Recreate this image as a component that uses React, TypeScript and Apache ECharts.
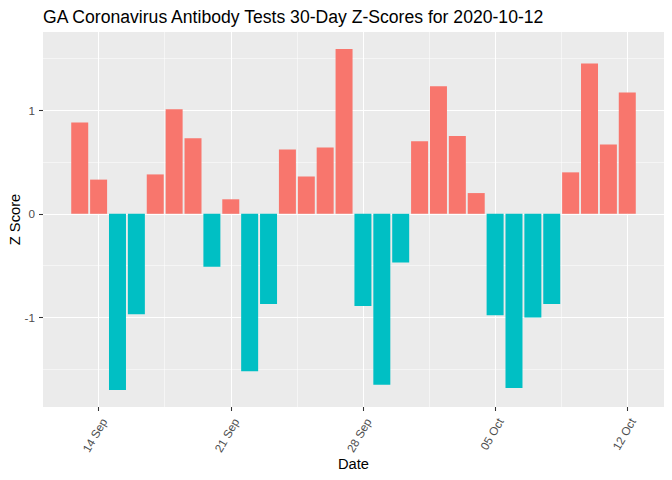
import React, { useEffect, useRef } from "react";
import * as echarts from "echarts";

const titleText = "GA Coronavirus Antibody Tests 30-Day Z-Scores for 2020-10-12";

const dates = [
  "2020-09-13", "2020-09-14", "2020-09-15", "2020-09-16", "2020-09-17",
  "2020-09-18", "2020-09-19", "2020-09-20", "2020-09-21", "2020-09-22",
  "2020-09-23", "2020-09-24", "2020-09-25", "2020-09-26", "2020-09-27",
  "2020-09-28", "2020-09-29", "2020-09-30", "2020-10-01", "2020-10-02",
  "2020-10-03", "2020-10-04", "2020-10-05", "2020-10-06", "2020-10-07",
  "2020-10-08", "2020-10-09", "2020-10-10", "2020-10-11", "2020-10-12",
];

const zScores = [
  0.88, 0.33, -1.70, -0.97, 0.38, 1.01, 0.73, -0.51, 0.14, -1.52,
  -0.87, 0.62, 0.36, 0.64, 1.59, -0.89, -1.65, -0.47, 0.70, 1.23,
  0.75, 0.20, -0.98, -1.68, -1.00, -0.87, 0.40, 1.45, 0.67, 1.17,
];

const xTickDates = ["2020-09-14", "2020-09-21", "2020-09-28", "2020-10-05", "2020-10-12"];
const xTickLabels = ["14 Sep", "21 Sep", "28 Sep", "05 Oct", "12 Oct"];
const xMinorDates = ["2020-09-17", "2020-09-24", "2020-10-01", "2020-10-08"]; // +0.5 day each

const yTicks = [-1, 0, 1];
const yTickLabels = ["-1", "0", "1"];
const yMinor = [-1.5, -0.5, 0.5, 1.5];

const POS_COLOR = "#F8766D";
const NEG_COLOR = "#00BFC4";
const BAR_WIDTH_DAYS = 0.9;

const utcDay = (s: string) => {
  const [y, m, d] = s.split("-").map(Number);
  return Date.UTC(y, m - 1, d) / 86400000;
};
// day offset from the first date (keeps the axis numbers small)
const dayNum = (s: string) => Math.round(utcDay(s) - utcDay(dates[0]));

export default function App() {
  const ref = useRef<HTMLDivElement>(null);

  useEffect(() => {
    if (!ref.current) return;
    const chart = echarts.init(ref.current, null, { renderer: "svg" });

    const days = dates.map(dayNum);
    const half = BAR_WIDTH_DAYS / 2;
    const xLo = Math.min(...days) - half;
    const xHi = Math.max(...days) + half;
    const xPad = (xHi - xLo) * 0.05;
    const xMin = xLo - xPad;
    const xMax = xHi + xPad;

    const yLo = Math.min(...zScores, 0);
    const yHi = Math.max(...zScores, 0);
    const yPad = (yHi - yLo) * 0.05;
    const yMin = yLo - yPad;
    const yMax = yHi + yPad;

    const xTickDays = xTickDates.map(dayNum);
    const xMinorDays = xMinorDates.map((d) => dayNum(d) + 0.5);
    const labelFor = (v: number) => {
      const i = xTickDays.findIndex((t) => Math.abs(t - v) < 1e-6);
      return i >= 0 ? xTickLabels[i] : "";
    };
    const yLabelFor = (v: number) => {
      const i = yTicks.findIndex((t) => Math.abs(t - v) < 1e-6);
      return i >= 0 ? yTickLabels[i] : "";
    };

    const font = "Liberation Sans";

    chart.setOption({
      animation: false,
      backgroundColor: "#FFFFFF",
      title: {
        text: titleText,
        left: 43,
        top: 8,
        padding: 0,
        textStyle: { fontFamily: font, fontSize: 17.6, fontWeight: "normal", color: "#000000" },
      },
      grid: {
        left: 43,
        right: 8,
        top: 32,
        bottom: 73,
        show: true,
        backgroundColor: "#EBEBEB",
        borderWidth: 0,
        containLabel: false,
        outerBoundsMode: "none",
      },
      xAxis: [
        {
          type: "value",
          min: xMin,
          max: xMax,
          name: "Date",
          nameLocation: "middle",
          nameGap: 49,
          nameMoveOverlap: false,
          nameTextStyle: { fontFamily: font, fontSize: 14.7, color: "#000000" },
          axisLine: { show: false, onZero: false },
          axisTick: {
            show: true,
            length: 4,
            customValues: xTickDays,
            lineStyle: { color: "#333333", width: 1.07 },
          },
          axisLabel: {
            show: true,
            customValues: xTickDays,
            formatter: (v: number) => labelFor(v),
            rotate: 60,
            align: "right",
            verticalAlign: "top",
            margin: 9,
            hideOverlap: false,
            fontFamily: font,
            fontSize: 11.7,
            color: "#4D4D4D",
          },
          splitLine: { show: true, lineStyle: { color: "#FFFFFF", width: 1.07 } },
        },
        {
          type: "value",
          min: xMin,
          max: xMax,
          position: "bottom",
          axisLine: { show: false, onZero: false },
          axisTick: { show: false, customValues: xMinorDays },
          axisLabel: { show: false },
          splitLine: { show: true, lineStyle: { color: "#FFFFFF", width: 0.53 } },
        },
      ],
      yAxis: [
        {
          type: "value",
          min: yMin,
          max: yMax,
          name: "Z Score",
          nameLocation: "middle",
          nameGap: 21,
          nameMoveOverlap: false,
          nameTextStyle: { fontFamily: font, fontSize: 14.7, color: "#000000" },
          axisLine: { show: false, onZero: false },
          axisTick: {
            show: true,
            length: 4,
            customValues: yTicks,
            lineStyle: { color: "#333333", width: 1.07 },
          },
          axisLabel: {
            show: true,
            customValues: yTicks,
            formatter: (v: number) => yLabelFor(v),
            margin: 8,
            fontFamily: font,
            fontSize: 11.7,
            color: "#4D4D4D",
          },
          splitLine: { show: true, lineStyle: { color: "#FFFFFF", width: 1.07 } },
        },
        {
          type: "value",
          min: yMin,
          max: yMax,
          position: "left",
          axisLine: { show: false, onZero: false },
          axisTick: { show: false, customValues: yMinor },
          axisLabel: { show: false },
          splitLine: { show: true, lineStyle: { color: "#FFFFFF", width: 0.53 } },
        },
      ],
      series: [
        {
          type: "custom",
          xAxisIndex: 0,
          yAxisIndex: 0,
          encode: { x: 0, y: 1 },
          data: days.map((d, i) => [d, zScores[i]]),
          renderItem: (params: any, api: any) => {
            const x = api.value(0);
            const y = api.value(1);
            const p0 = api.coord([x - half, y]);
            const p1 = api.coord([x + half, 0]);
            return {
              type: "rect",
              shape: {
                x: p0[0],
                y: Math.min(p0[1], p1[1]),
                width: p1[0] - p0[0],
                height: Math.abs(p1[1] - p0[1]),
              },
              style: { fill: y >= 0 ? POS_COLOR : NEG_COLOR },
            };
          },
        },
      ],
    });

    return () => chart.dispose();
  }, []);

  return (
    <div
      ref={ref}
      style={{ position: "absolute", left: 0, top: 0, width: 672, height: 480 }}
    />
  );
}
